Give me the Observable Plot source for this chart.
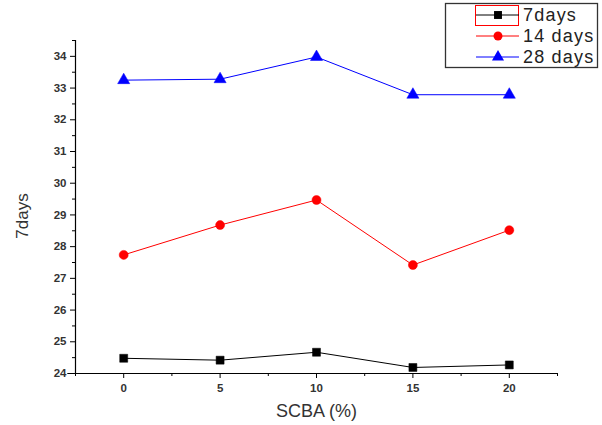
<!DOCTYPE html>
<html>
<head>
<meta charset="utf-8">
<script src="https://cdn.jsdelivr.net/npm/d3@7"></script>
<script src="https://cdn.jsdelivr.net/npm/@observablehq/plot@0.6"></script>
<style>
  html, body { margin: 0; padding: 0; background: #fff; }
  #wrap { position: relative; width: 602px; height: 425px; font-family: "Liberation Sans", Arial, sans-serif; }
  #legend { position: absolute; left: 0; top: 0; }
</style>
</head>
<body>
<div id="wrap"></div>
<script>
// ---- data ----
const scba = [0, 5, 10, 15, 20];
const days7 = [24.48, 24.42, 24.67, 24.19, 24.27];
const days14 = [27.74, 28.68, 29.47, 27.42, 28.52];
const days28 = [33.25, 33.28, 33.98, 32.79, 32.79];
const seriesNames = ["7days", "14 days", "28 days"];
const seriesColors = ["#000000", "#ff0000", "#0000ff"];
const seriesSymbols = ["square", "circle", "triangle"];
const xMajor = [0, 5, 10, 15, 20];
const xMinor = [-2.5, 2.5, 7.5, 12.5, 17.5, 22.5];
const yMajor = [24, 25, 26, 27, 28, 29, 30, 31, 32, 33, 34];
const yMinor = [24.5, 25.5, 26.5, 27.5, 28.5, 29.5, 30.5, 31.5, 32.5, 33.5, 34.5];

const allSeries = [days7, days14, days28];
const rows = [];
allSeries.forEach((vals, i) => vals.forEach((v, j) => rows.push({x: scba[j], y: v, s: seriesNames[i]})));

const tickFont = {fontSize: 11.5, fontWeight: "bold", fill: "#333"};

const chart = Plot.plot({
  width: 602,
  height: 425,
  marginLeft: 75,
  marginRight: 45,
  marginTop: 40,
  marginBottom: 52,
  style: {fontFamily: "'Liberation Sans', Arial, sans-serif", background: "#fff", overflow: "visible"},
  x: {domain: [-2.5, 22.5]},
  y: {domain: [24, 34.5]},
  color: {domain: seriesNames, range: seriesColors},
  symbol: {domain: seriesNames, range: seriesSymbols},
  marks: [
    Plot.ruleX([-2.5], {stroke: "#000", strokeWidth: 1.2}),
    Plot.ruleY([24], {x1: -2.9, x2: 22.5, stroke: "#000", strokeWidth: 1.2}),
    Plot.axisY({ticks: yMajor, tickSize: 5, tickPadding: 4, tickFormat: d => String(d), label: null, ...tickFont, stroke: "#000"}),
    Plot.axisY({ticks: yMinor, tickSize: 3, tickFormat: null, label: null, stroke: "#000", text: null}),
    Plot.axisX({ticks: xMajor, tickSize: 5, tickPadding: 5, tickFormat: d => String(d), label: null, ...tickFont, stroke: "#000"}),
    Plot.axisX({ticks: xMinor, tickSize: 3, label: null, stroke: "#000", text: null}),
    Plot.line(rows, {x: "x", y: "y", z: "s", stroke: "s", strokeWidth: 1}),
    Plot.dot(rows, {x: "x", y: "y", symbol: "s", fill: "s", stroke: "s", strokeWidth: 0.5, r: 4.5}),
    Plot.text(["SCBA (%)"], {frameAnchor: "bottom", dy: 43, fontSize: 18, fill: "#333", letterSpacing: "0.5px"}),
    Plot.text(["7days"], {frameAnchor: "left", textAnchor: "middle", dx: -53, dy: 9, rotate: -90, fontSize: 17, fill: "#333"})
  ]
});
document.getElementById("wrap").appendChild(chart);

// legend overlay
const ns = "http://www.w3.org/2000/svg";
const leg = document.createElementNS(ns, "svg");
leg.setAttribute("id", "legend");
leg.setAttribute("width", 602);
leg.setAttribute("height", 80);
const box = document.createElementNS(ns, "rect");
box.setAttribute("x", 445.5); box.setAttribute("y", 3.5);
box.setAttribute("width", 152); box.setAttribute("height", 64);
box.setAttribute("fill", "#fff"); box.setAttribute("stroke", "#333"); box.setAttribute("stroke-width", 1.3);
leg.appendChild(box);
const sel = document.createElementNS(ns, "rect");
sel.setAttribute("x", 475.5); sel.setAttribute("y", 5.5);
sel.setAttribute("width", 43); sel.setAttribute("height", 20);
sel.setAttribute("fill", "none"); sel.setAttribute("stroke", "#ff0000"); sel.setAttribute("stroke-width", 1);
leg.appendChild(sel);
seriesNames.forEach((name, i) => {
  const cy = 15 + i * 21;
  const ln = document.createElementNS(ns, "line");
  ln.setAttribute("x1", 476); ln.setAttribute("x2", 519);
  ln.setAttribute("y1", cy); ln.setAttribute("y2", cy);
  ln.setAttribute("stroke", seriesColors[i]); ln.setAttribute("stroke-width", 1);
  leg.appendChild(ln);
  const sym = document.createElementNS(ns, "path");
  const typeMap = {square: d3.symbolSquare, circle: d3.symbolCircle, triangle: d3.symbolTriangle};
  sym.setAttribute("d", d3.symbol(typeMap[seriesSymbols[i]], Math.PI * 20)());
  sym.setAttribute("transform", `translate(498,${cy})`);
  sym.setAttribute("fill", seriesColors[i]);
  leg.appendChild(sym);
  const t = document.createElementNS(ns, "text");
  t.setAttribute("x", 523); t.setAttribute("y", cy + 6);
  t.setAttribute("font-size", 18); t.setAttribute("fill", "#222");
  t.setAttribute("letter-spacing", "1.2px");
  t.setAttribute("font-family", "'Liberation Sans', Arial, sans-serif");
  t.textContent = name;
  leg.appendChild(t);
});
document.getElementById("wrap").appendChild(leg);
</script>
</body>
</html>
